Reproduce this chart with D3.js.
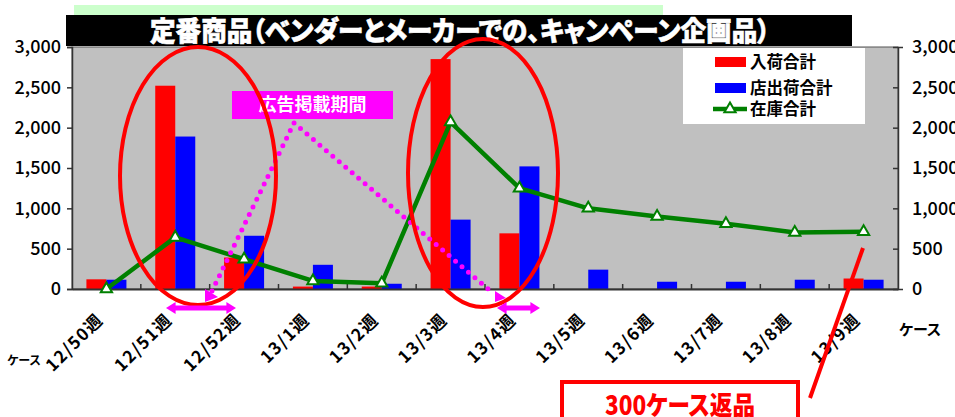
<!DOCTYPE html>
<html><head><meta charset="utf-8">
<script src="https://cdn.jsdelivr.net/npm/d3@7"></script>
<style>
html,body{margin:0;padding:0;background:#fff;}
svg{display:block;font-family:"Noto Sans CJK JP","Noto Sans",sans-serif;}
.palt{font-feature-settings:"palt";}
</style></head><body>
<svg id="c" width="955" height="417"></svg>
<script>
// ---- data ----
const categories = ["12/50週","12/51週","12/52週","13/1週","13/2週","13/3週","13/4週","13/5週","13/6週","13/7週","13/8週","13/9週"];
const arrivals   = [120, 2520, 390, 30, 30, 2850, 690, 0, 0, 0, 0, 130];   // 入荷合計
const shipments  = [115, 1890, 660, 300, 65, 860, 1520, 240, 90, 90, 115, 115]; // 店出荷合計
const inventory  = [0, 640, 370, 100, 70, 2070, 1250, 1000, 900, 810, 700, 710]; // 在庫合計
const yTicks     = [0, 500, 1000, 1500, 2000, 2500, 3000];
const seriesNames = ["入荷合計","店出荷合計","在庫合計"];
const titleText = "定番商品（ベンダーとメーカーでの、キャンペーン企画品）";
const adLabel = "広告掲載期間";
const returnLabel = "300ケース返品";
const unitLabel = "ケース";

const svg = d3.select("#c");
const L = 72, R = 898, T = 47, B = 289;
const x = d3.scaleBand().domain(categories).range([L, R]).paddingInner(0).paddingOuter(0);
const x1 = d3.scaleBand().domain(["in","out"]).range([0, x.bandwidth()]).paddingInner(0).paddingOuter(0.72);
const y = d3.scaleLinear().domain([0, 3000]).range([B, T]);
const xc = c => x(c) + x.bandwidth()/2;

// top light-green band and black title bar
svg.append("rect").attr("x",74).attr("y",5).attr("width",589).attr("height",12).attr("fill","#CCFFCC");
svg.append("rect").attr("x",66).attr("y",15).attr("width",786).attr("height",31).attr("fill","#000");
svg.append("text").attr("class","palt").attr("x",460).attr("y",31).attr("dy","0.36em")
  .attr("text-anchor","middle").attr("fill","#fff").attr("font-size",27).attr("font-weight",900)
  .attr("stroke","#fff").attr("stroke-width",0.6)
  .attr("textLength",620).attr("lengthAdjust","spacingAndGlyphs").text(titleText);

// plot area
svg.append("rect").attr("x",L).attr("y",T).attr("width",R-L).attr("height",B-T)
  .attr("fill","#C0C0C0").attr("stroke","#555").attr("stroke-width",1);

// bars
const g = svg.append("g");
categories.forEach((c,i)=>{
  g.append("rect").attr("x",x(c)+x1("in")).attr("width",x1.bandwidth())
   .attr("y",y(arrivals[i])).attr("height",y(0)-y(arrivals[i])).attr("fill","#FF0000");
  g.append("rect").attr("x",x(c)+x1("out")).attr("width",x1.bandwidth())
   .attr("y",y(shipments[i])).attr("height",y(0)-y(shipments[i])).attr("fill","#0000FF");
});

// axes
const yl = d3.axisLeft(y).tickValues(yTicks).tickFormat(d3.format(",")).tickSize(5).tickPadding(6);
const yr = d3.axisRight(y).tickValues(yTicks).tickFormat(d3.format(",")).tickSize(5).tickPadding(9);
const ga = svg.append("g").attr("transform",`translate(${L},0)`).call(yl);
const gb = svg.append("g").attr("transform",`translate(${R},0)`).call(yr);
[ga,gb].forEach(a=>{
  a.selectAll("path,line").attr("stroke","#333").attr("stroke-width",1.5);
  a.selectAll("text").attr("font-size",18).attr("fill","#000").attr("font-family","'Noto Sans CJK JP',sans-serif").attr("font-weight",500);
});
gb.selectAll(".tick line").attr("x2",-5);
const xa = d3.axisBottom(x).tickSize(0).tickFormat("");
const gx = svg.append("g").attr("transform",`translate(0,${B})`).call(xa);
gx.select("path").attr("stroke","#333").attr("stroke-width",2);
// category boundary tick marks (inside)
categories.slice(1).forEach(c=>{
  svg.append("line").attr("x1",x(c)).attr("x2",x(c)).attr("y1",B).attr("y2",B-5).attr("stroke","#333").attr("stroke-width",1.5);
});
// category labels
categories.forEach(c=>{
  svg.append("text").attr("transform",`translate(${xc(c)-2},${321}) rotate(-45)`)
    .attr("text-anchor","end").attr("font-size",17).attr("font-weight",700).attr("letter-spacing",1.5).attr("fill","#000").text(c);
});

// inventory line
const line = d3.line().x((d,i)=>xc(categories[i])).y(d=>y(d));
svg.append("path").datum(inventory).attr("d",line).attr("fill","none").attr("stroke","#008000").attr("stroke-width",4.5).attr("stroke-linejoin","round");
const tri = d3.symbol().type(d3.symbolTriangle).size(55);
inventory.forEach((v,i)=>{
  svg.append("path").attr("d",tri).attr("transform",`translate(${xc(categories[i])},${y(v)})`)
    .attr("fill","#fff").attr("stroke","#008000").attr("stroke-width",2);
});

// legend
svg.append("rect").attr("x",683).attr("y",48).attr("width",182).attr("height",76).attr("fill","#fff");
const legY = [62, 88, 109];
svg.append("rect").attr("x",715).attr("y",legY[0]-5).attr("width",31).attr("height",10).attr("fill","#FF0000");
svg.append("rect").attr("x",715).attr("y",legY[1]-5).attr("width",31).attr("height",10).attr("fill","#0000FF");
svg.append("line").attr("x1",713).attr("x2",747).attr("y1",legY[2]).attr("y2",legY[2]).attr("stroke","#008000").attr("stroke-width",4.5);
svg.append("path").attr("d",tri).attr("transform",`translate(730,${legY[2]})`).attr("fill","#fff").attr("stroke","#008000").attr("stroke-width",2);
seriesNames.forEach((n,i)=>{
  svg.append("text").attr("x",750).attr("y",legY[i]).attr("dy","0.36em").attr("font-size",16.5).attr("font-weight",700).attr("fill","#000").text(n);
});

// annotations: ad period
svg.append("rect").attr("x",232).attr("y",91).attr("width",161).attr("height",28).attr("fill","#FF00FF");
svg.append("text").attr("x",312.5).attr("y",105).attr("dy","0.36em").attr("text-anchor","middle")
  .attr("font-size",18).attr("font-weight",700).attr("fill","#fff").text(adLabel);
const dotPts = [[212,291],[294,123],[494,294]];
const dl = d3.line();
svg.append("path").attr("d",dl(dotPts)).attr("fill","none").attr("stroke","#FF00FF").attr("stroke-width",5)
  .attr("stroke-linecap","round").attr("stroke-dasharray","0 8.5");

// red ellipses
svg.append("ellipse").attr("cx",198).attr("cy",176).attr("rx",78).attr("ry",129).attr("fill","none").attr("stroke","#FF0000").attr("stroke-width",4);
svg.append("ellipse").attr("cx",483).attr("cy",173).attr("rx",75).attr("ry",134).attr("fill","none").attr("stroke","#FF0000").attr("stroke-width",4);

// magenta arrows
function dArrow(x0,x1_,yy){
  const h=6, hw=2.5;
  const p=[[x0,yy],[x0+h*1.6,yy-h],[x0+h*1.6,yy-hw],[x1_-h*1.6,yy-hw],[x1_-h*1.6,yy-h],[x1_,yy],[x1_-h*1.6,yy+h],[x1_-h*1.6,yy+hw],[x0+h*1.6,yy+hw],[x0+h*1.6,yy+h]];
  svg.append("path").attr("d",d3.line()(p)+"Z").attr("fill","#FF00FF");
}
dArrow(166,236,308);
dArrow(497,540,308);
svg.append("path").attr("d","M205,289L205,302L218,297Z").attr("fill","#FF00FF");
svg.append("path").attr("d","M495,291L495,302L506,298Z").attr("fill","#FF00FF");

// return annotation
svg.append("line").attr("x1",863).attr("y1",248).attr("x2",810).attr("y2",398).attr("stroke","#FF0000").attr("stroke-width",4);
svg.append("rect").attr("x",562).attr("y",382).attr("width",236).attr("height",60).attr("fill","none").attr("stroke","#FF0000").attr("stroke-width",4);
svg.append("text").attr("class","palt").attr("x",680).attr("y",415).attr("text-anchor","middle").attr("font-size",26).attr("font-weight",900)
  .attr("fill","#FF0000").attr("textLength",150).attr("lengthAdjust","spacingAndGlyphs").text(returnLabel);

// unit labels
svg.append("text").attr("class","palt").attr("x",24).attr("y",361).attr("dy","0.36em").attr("text-anchor","middle").attr("font-size",12).attr("font-weight",700).text(unitLabel);
svg.append("text").attr("class","palt").attr("x",920).attr("y",330).attr("dy","0.36em").attr("text-anchor","middle").attr("font-size",15).attr("font-weight",700).text(unitLabel);
</script></body></html>
